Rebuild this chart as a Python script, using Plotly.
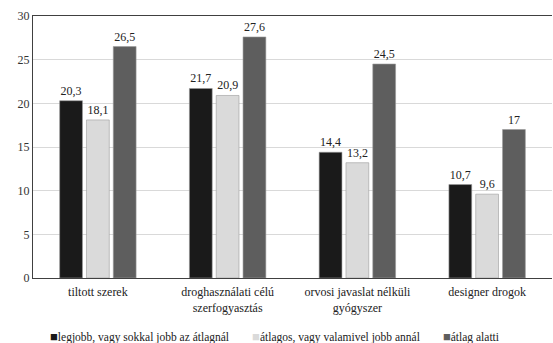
import plotly.graph_objects as go

categories = ["tiltott szerek", "droghasználati célú<br>szerfogyasztás",
              "orvosi javaslat nélküli<br>gyógyszer", "designer drogok"]
series_names = ["legjobb, vagy sokkal jobb az átlagnál",
                "átlagos, vagy valamivel jobb annál",
                "átlag alatti"]
best = [20.3, 21.7, 14.4, 10.7]
average = [18.1, 20.9, 13.2, 9.6]
below = [26.5, 27.6, 24.5, 17]
colors = ["#1a1a1a", "#dadada", "#5e5e5e"]

def fmt(v):
    s = ("%g" % v)
    return s.replace(".", ",")

font_family = "Liberation Serif, DejaVu Serif, serif"

fig = go.Figure()
for name, vals, c in zip(series_names, [best, average, below], colors):
    fig.add_trace(go.Bar(
        x=categories, y=vals, name=name,
        marker=dict(color=c, line=dict(color="#9a9a9a", width=0.6)),
        text=[fmt(v) for v in vals], textposition="outside",
        textfont=dict(size=12, color="#222222", family=font_family),
        cliponaxis=False, showlegend=False,
    ))

# legend built as one centered line of text with coloured squares
parts = []
for name, c in zip(series_names, colors):
    parts.append("<span style='color:%s;font-size:13px'>■</span>%s" % (c, name))
legend_text = ("&nbsp;" * 8).join(parts)

fig.update_layout(
    width=553, height=343,
    margin=dict(l=33, r=1, t=16, b=65, autoexpand=False),
    paper_bgcolor="white", plot_bgcolor="white",
    barmode="group", bargap=0.38, bargroupgap=0.15,
    font=dict(family=font_family, size=12, color="#222222"),
    showlegend=False,
    annotations=[dict(text=legend_text, xref="paper", yref="paper",
                      x=(274 - 33) / 519, y=-58 / 262, xanchor="center",
                      yanchor="middle", showarrow=False,
                      font=dict(size=11.5, color="#222222"))],
)
fig.update_xaxes(showline=True, linecolor="#404040", linewidth=1, mirror=True,
                 ticks="", tickfont=dict(size=12), automargin=False, ticklabelstandoff=3)
fig.update_yaxes(range=[0, 30], dtick=5, showgrid=True, gridcolor="#d9d9d9",
                 gridwidth=1, showline=True, linecolor="#404040", linewidth=1,
                 zeroline=False, ticks="", tickfont=dict(size=12, color="#333333"),
                 automargin=False)

fig.write_html("out.html", config={"displayModeBar": False},
               post_script="document.body.style.margin='0';document.body.style.overflow='hidden';")
